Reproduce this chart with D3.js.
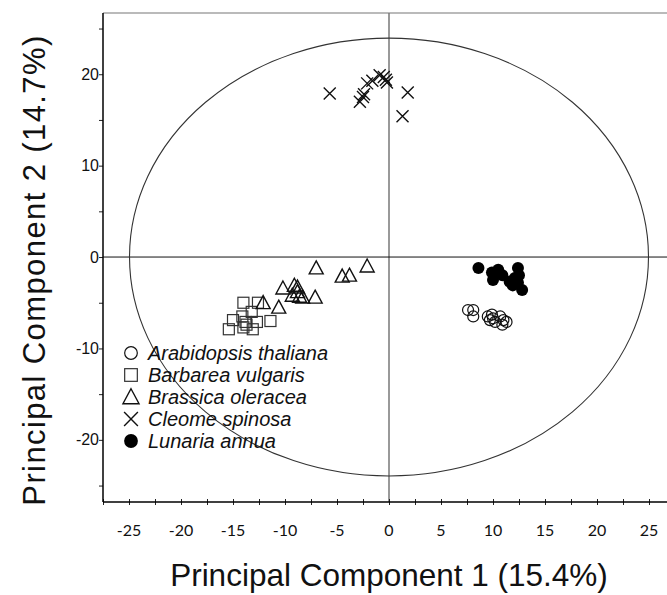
<!DOCTYPE html>
<html>
<head>
<meta charset="utf-8">
<script src="https://cdn.jsdelivr.net/npm/d3@7"></script>
<style>
  html, body { margin: 0; padding: 0; background: #fff; }
  svg { display: block; }
</style>
</head>
<body>
<svg id="chart" width="667" height="595"></svg>
<script>
// PCA scores (PC1, PC2) per species
const arabidopsis = [
  [7.6, -5.8], [8.1, -5.8], [8.1, -6.5], [9.5, -6.5], [9.9, -6.3], [10.0, -6.7],
  [9.7, -6.9], [10.7, -6.5], [11.0, -6.9], [10.9, -7.4], [11.3, -7.1], [10.2, -7.1]
];
const barbarea = [
  [-14.0, -5.0], [-12.6, -5.0], [-13.2, -6.0], [-15.0, -6.9], [-14.1, -6.5], [-13.8, -7.1],
  [-13.7, -7.4], [-12.7, -7.1], [-11.4, -7.0], [-15.4, -7.9], [-13.1, -7.9], [-14.0, -7.7]
];
const brassica = [
  [-7.0, -1.2], [-4.5, -2.1], [-3.8, -2.0], [-2.1, -1.0], [-10.2, -3.4], [-9.1, -3.1],
  [-8.8, -3.3], [-8.8, -3.8], [-9.3, -4.2], [-8.6, -4.3], [-8.3, -4.4], [-7.1, -4.4],
  [-12.1, -5.0], [-10.6, -5.5]
];
const cleome = [
  [-5.7, 17.9], [-2.5, 17.5], [-2.8, 17.0], [-2.1, 19.0], [-1.6, 19.3], [-0.9, 19.9],
  [-0.5, 19.7], [-0.2, 19.1], [1.8, 18.0], [1.3, 15.4], [-2.4, 17.8], [-0.3, 19.4]
];
const lunaria = [
  [8.6, -1.2], [9.9, -1.7], [10.5, -1.4], [10.0, -2.5], [10.9, -2.0], [12.4, -1.2],
  [12.1, -2.3], [11.9, -3.1], [12.4, -2.8], [12.8, -3.6], [12.5, -2.0], [11.6, -2.7]
];

const speciesNames = ["Arabidopsis thaliana", "Barbarea vulgaris", "Brassica oleracea", "Cleome spinosa", "Lunaria annua"];
const speciesShapes = ["circle", "square", "triangle", "cross", "dot"];
const speciesData = [arabidopsis, barbarea, brassica, cleome, lunaria];

const xTickLabels = [-25, -20, -15, -10, -5, 0, 5, 10, 15, 20, 25];
const yTickLabels = [-20, -10, 0, 10, 20];

// Confidence ellipse radii (PC1, PC2)
const ellipseRadii = [24.95, 23.95];

const svg = d3.select("#chart");
const W = 667;

const x = d3.scaleLinear().domain([-27.5, 27.5]).range([103, 675]);
const y = d3.scaleLinear().domain([-26.8, 26.7]).range([502, 13]);

// Frame: top border and zero cross-hairs
svg.append("line").attr("x1", x(-27.5)).attr("x2", W).attr("y1", y(26.7)).attr("y2", y(26.7))
  .attr("stroke", "#777").attr("stroke-width", 1.2);
svg.append("line").attr("x1", x(0)).attr("x2", x(0)).attr("y1", y(26.7)).attr("y2", y(-26.8))
  .attr("stroke", "#777").attr("stroke-width", 1.5);
svg.append("line").attr("x1", x(-27.5)).attr("x2", W).attr("y1", y(0)).attr("y2", y(0))
  .attr("stroke", "#111").attr("stroke-width", 1);

// Ellipse
svg.append("ellipse")
  .attr("cx", x(0)).attr("cy", y(0))
  .attr("rx", x(ellipseRadii[0]) - x(0))
  .attr("ry", y(0) - y(ellipseRadii[1]))
  .attr("fill", "none").attr("stroke", "#333").attr("stroke-width", 1.1);

// Axes
const xAxis = d3.axisBottom(x)
  .tickValues(d3.range(-27.5, 27.6, 2.5))
  .tickSizeInner(4).tickSizeOuter(0).tickFormat("");
const gx = svg.append("g").attr("transform", `translate(0,${y(-26.8)})`).call(xAxis);
gx.select(".domain").remove();
gx.selectAll(".tick line").attr("y1", -3).attr("y2", 3).attr("stroke", "#222");
gx.append("line").attr("x1", x(-27.5)).attr("x2", W).attr("y1", 0).attr("y2", 0)
  .attr("stroke", "#000").attr("stroke-width", 1.5);

svg.append("g").selectAll("text").data(xTickLabels).join("text")
  .attr("x", d => x(d)).attr("y", 536)
  .attr("text-anchor", "middle")
  .attr("font-family", "Lato, 'Open Sans', sans-serif")
  .attr("font-size", 16).attr("fill", "#111")
  .text(d => d);

const yAxis = d3.axisLeft(y)
  .tickValues(d3.range(-25, 25.1, 5))
  .tickSizeInner(4).tickSizeOuter(0)
  .tickFormat(d => yTickLabels.includes(d) ? d : "");
const gy = svg.append("g").attr("transform", `translate(${x(-27.5)},0)`).call(yAxis);
gy.select(".domain").remove();
gy.append("line").attr("x1", 0).attr("x2", 0).attr("y1", y(26.7)).attr("y2", y(-26.8))
  .attr("stroke", "#000").attr("stroke-width", 1.5);
gy.selectAll(".tick line").attr("stroke", "#222");
gy.selectAll(".tick text")
  .attr("x", -4)
  .attr("font-family", "'Liberation Sans', Arial, sans-serif")
  .attr("font-size", 16).attr("fill", "#111");

// Marker drawing; k scales the marker size
function drawMarker(g, shape, cx, cy, k = 1) {
  if (shape === "circle") {
    g.append("circle").attr("cx", cx).attr("cy", cy).attr("r", 5.5 * k)
      .attr("fill", "none").attr("stroke", "#111").attr("stroke-width", 1.2);
  } else if (shape === "dot") {
    g.append("circle").attr("cx", cx).attr("cy", cy).attr("r", 6 * k)
      .attr("fill", "#000").attr("stroke", "none");
  } else if (shape === "square") {
    const s = 5.5 * k;
    g.append("rect").attr("x", cx - s).attr("y", cy - s).attr("width", 2 * s).attr("height", 2 * s)
      .attr("fill", "none").attr("stroke", "#333").attr("stroke-width", 1.2);
  } else if (shape === "triangle") {
    const h = 13 * k, w = 14 * k;
    g.append("path")
      .attr("d", `M${cx},${cy - h * 0.55} L${cx + w / 2},${cy + h * 0.45} L${cx - w / 2},${cy + h * 0.45} Z`)
      .attr("fill", "none").attr("stroke", "#111").attr("stroke-width", 1.4);
  } else if (shape === "cross") {
    const s = 6 * k;
    g.append("path")
      .attr("d", `M${cx - s},${cy - s} L${cx + s},${cy + s} M${cx - s},${cy + s} L${cx + s},${cy - s}`)
      .attr("fill", "none").attr("stroke", "#111").attr("stroke-width", 1.4);
  }
}

const points = svg.append("g");
speciesData.forEach((data, i) => {
  data.forEach(([px, py]) => drawMarker(points, speciesShapes[i], x(px), y(py)));
});

// Legend
const legend = svg.append("g");
speciesNames.forEach((name, i) => {
  const ly = 353 + i * 22;
  drawMarker(legend, speciesShapes[i], 131, ly, 1.15);
  legend.append("text")
    .attr("x", 148).attr("y", ly + 7)
    .attr("font-family", "'Liberation Sans', Arial, sans-serif")
    .attr("font-style", "italic")
    .attr("font-size", 20).attr("fill", "#111")
    .text(name);
});

// Axis titles
svg.append("text")
  .attr("x", x(0)).attr("y", 586)
  .attr("text-anchor", "middle")
  .attr("font-family", "'Liberation Sans', Arial, sans-serif")
  .attr("font-size", 31.5).attr("fill", "#111")
  .text("Principal Component 1 (15.4%)");

svg.append("text")
  .attr("transform", `translate(45,270) rotate(-90)`)
  .attr("text-anchor", "middle")
  .attr("font-family", "'Liberation Sans', Arial, sans-serif")
  .attr("font-size", 31).attr("fill", "#111")
  .attr("letter-spacing", 1.4)
  .text("Principal Component 2 (14.7%)");
</script>
</body>
</html>
